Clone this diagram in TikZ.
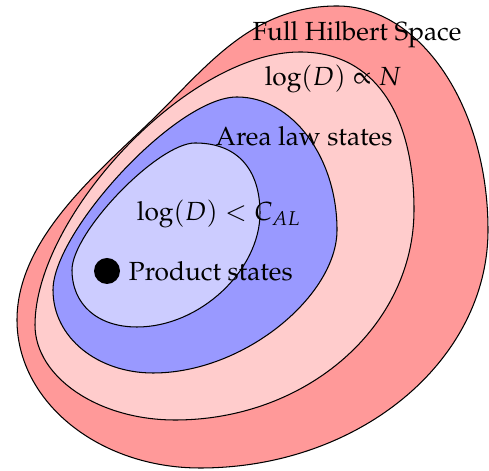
\documentclass[tikz,border=0pt]{standalone}
\usepackage[T1]{fontenc}
\usepackage{mathpazo}
\usetikzlibrary{positioning}
\definecolor{hsfull}{HTML}{FF9999}
\definecolor{hsvol}{HTML}{FFCCCC}
\definecolor{hsarea}{HTML}{9999FF}
\definecolor{hsprod}{HTML}{CCCCFF}

\begin{document}
\begin{tikzpicture}[
    x=0.0134cm, y=-0.0134cm,
    region/.style={draw=black, fill=#1, line width=0.4pt},
    regiontext/.style={inner sep=1pt},
    dot/.style={circle, fill=black, minimum size=26*0.0134cm, inner sep=0pt}
  ]
    \useasboundingbox (0,0) rectangle (489,471);
    % nested regions, outermost first
    \draw[region=hsfull] (17,320) .. controls (17,240) and (95,175) .. (150,122)
      .. controls (205,69) and (250,6) .. (337,6)
      .. controls (420,6) and (488,106) .. (488,230)
      .. controls (488,361) and (359,468) .. (200,468)
      .. controls (99,468) and (17,402) .. cycle;
    \draw[region=hsvol] (35,325) .. controls (35,217) and (187,52) .. (300,52)
      .. controls (375,52) and (414,115) .. (414,210)
      .. controls (414,326) and (307,420) .. (175,420)
      .. controls (98,420) and (35,377) .. cycle;
    \draw[region=hsarea] (53,290) .. controls (53,232) and (176,97) .. (237,97)
      .. controls (292,97) and (337,157) .. (337,230)
      .. controls (337,295) and (245,373) .. (153,373)
      .. controls (98,373) and (53,338) .. cycle;
    \draw[region=hsprod] (72,270) .. controls (72,232) and (158,143) .. (195,143)
      .. controls (238,143) and (260,170) .. (260,213)
      .. controls (260,270) and (200,327) .. (137,327)
      .. controls (97,327) and (72,304) .. cycle;
    % labels
    \node[regiontext] (full) at (357,35) {Full Hilbert Space};
    \node[regiontext] (vol) at (333,79) {$\log(D) \propto N$};
    \node[regiontext] (area) at (304,136) {Area law states};
    \node[regiontext] (bound) at (219,214) {$\log(D) < C_{AL}$};
    \node[dot] (prod) at (107,271) {};
    \node[regiontext, right=2pt of prod] (prodtext) {Product states};
  \end{tikzpicture}
\end{document}
